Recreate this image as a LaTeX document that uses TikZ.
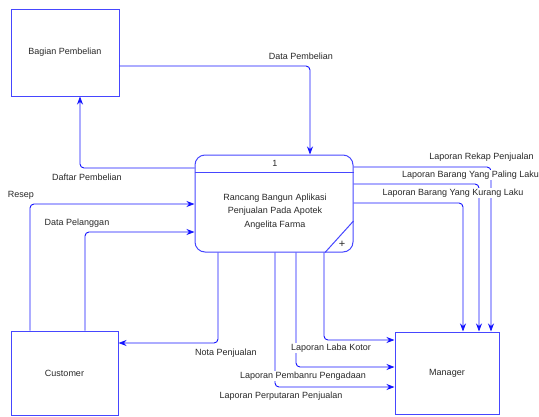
\documentclass[tikz,border=0pt]{standalone}
\usepackage{fontspec}
\setmainfont{Liberation Sans}
\usetikzlibrary{arrows.meta}
\definecolor{lineblue}{RGB}{20,20,255}
\definecolor{boxblue}{RGB}{70,70,255}
\definecolor{txt}{RGB}{40,40,40}
\tikzset{
  entity/.style={draw=boxblue, line width=1pt, rectangle, inner sep=0pt},
  lbl/.style={text=txt, font=\fontsize{9}{10.5}\selectfont, inner sep=0.6pt, fill=white},
  flow/.style={draw=lineblue, line width=0.9pt, rounded corners=4pt,
    -{Stealth[length=8pt,width=6pt,inset=2.5pt]}},
}
\begin{document}
\begin{tikzpicture}[x=1pt,y=-1pt]
\useasboundingbox (0,0) rectangle (539,416);
% entities
\node[entity, minimum width=108pt, minimum height=87pt] (bp) at (65,52.5) {};
\node[entity, minimum width=107pt, minimum height=84pt] (cust) at (64.5,373) {};
\node[entity, minimum width=104pt, minimum height=82pt] (mgr) at (447,373) {};
\node[lbl, fill=none] (bpt) at (bp.center) {Bagian Pembelian};
\node[lbl, fill=none] (custt) at (cust.center) {Customer};
\node[lbl, fill=none] (mgrt) at (mgr.center) {Manager};
% process
\node[entity, rounded corners=10pt, minimum width=158pt, minimum height=97pt] (proc) at (274,203.5) {};
\draw[draw=boxblue, line width=1pt] (proc.west |- 0,172) -- (proc.east |- 0,172);
\draw[draw=boxblue, line width=1pt] (proc.east |- 0,221) -- (proc.south -| 325,0);
\node[lbl, fill=none] (pnum) at (275,163) {1};
\node[lbl, fill=none, align=center, font=\fontsize{9}{13.5}\selectfont] (ptext) at (275,211.5) {Rancang Bangun Aplikasi\\Penjualan Pada Apotek\\Angelita Farma};
\node[text=txt, font=\fontsize{11}{11}\selectfont, inner sep=0pt] (plus) at (342,244) {+};
% flows
\draw[flow] (bp.east |- 0,66) -| (proc.north -| 310,0);
\draw[flow] (proc.west |- 0,168) -| (bp.south -| 80,0);
\draw[flow] (cust.north -| 30,0) |- (proc.west |- 0,204);
\draw[flow] (cust.north -| 85,0) |- (proc.west |- 0,232);
\draw[flow] (proc.south -| 218,0) |- (cust.east |- 0,343);
\draw[flow] (proc.south -| 275,0) |- (mgr.west |- 0,387);
\draw[flow] (proc.south -| 296,0) |- (mgr.west |- 0,367);
\draw[flow] (proc.south -| 324,0) |- (mgr.west |- 0,340);
\draw[flow] (proc.east |- 0,167) -| (mgr.north -| 491,0);
\draw[flow] (proc.east |- 0,184) -| (mgr.north -| 479,0);
\draw[flow] (proc.east |- 0,203) -| (mgr.north -| 463,0);
% labels
\node[lbl] (l1) at (301,56) {Data Pembelian};
\node[lbl] (l2) at (87,177) {Daftar Pembelian};
\node[lbl] (l3) at (21,195) {Resep};
\node[lbl] (l4) at (77,223) {Data Pelanggan};
\node[lbl] (l5) at (226,353) {Nota Penjualan};
\node[lbl] (l6) at (331,348) {Laporan Laba Kotor};
\node[lbl] (l7) at (303,376) {Laporan Pembanru Pengadaan};
\node[lbl] (l8) at (281,396) {Laporan Perputaran Penjualan};
\node[lbl] (l9) at (481.5,157) {Laporan Rekap Penjualan};
\node[lbl] (l10) at (470.5,175) {Laporan Barang Yang Paling Laku};
\node[lbl] (l11) at (453,193) {Laporan Barang Yang Kurang Laku};
\end{tikzpicture}
\end{document}
